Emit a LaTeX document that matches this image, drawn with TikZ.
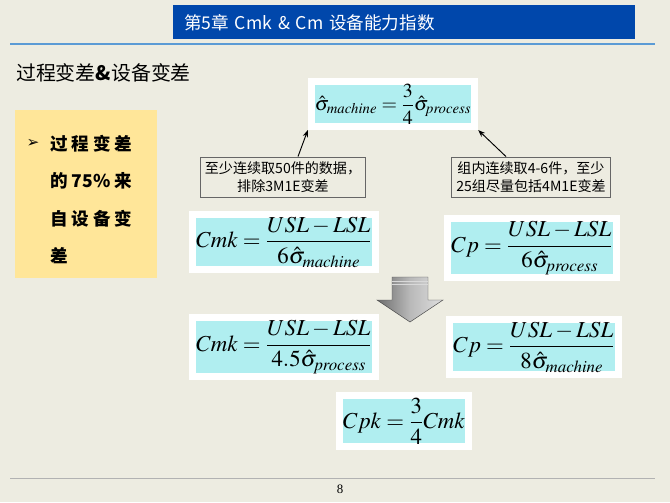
\documentclass[tikz,border=0pt]{standalone}
\usepackage{amsmath}
\usepackage{mathptmx}
\usepackage{fontspec}
\newfontfamily\cjk{Noto Sans CJK SC}
\setmainfont{Liberation Serif}
\usetikzlibrary{arrows.meta}
\definecolor{slidebg}{HTML}{EDECE1}
\definecolor{titleblue}{HTML}{0047AB}
\definecolor{rulerblue}{HTML}{5B9BD5}
\definecolor{notebox}{HTML}{FFE699}
\definecolor{formcyan}{HTML}{B0EEF0}
\begin{document}
\begin{tikzpicture}[
        x=0.03cm, y=-0.03cm,
        formula/.style={draw=white, line width=6pt, fill=formcyan, inner xsep=3pt, inner ysep=2pt, font=\fontsize{19.5}{22}\selectfont},
        remark/.style={draw=gray!80!black, thick, fill=slidebg, align=center, inner sep=4pt, font=\cjk\fontsize{12}{15}\selectfont},
        arrow/.style={-{Stealth[length=6pt]}, thick}
    ]
        \fill[slidebg] (0,0) rectangle (670,502);
        \useasboundingbox (0,0) rectangle (670,502);

        % Title and rulers
        \node[fill=titleblue, minimum width=462*0.03cm, minimum height=34*0.03cm, anchor=north west, text=white, inner xsep=6pt, font=\cjk\fontsize{15}{18}\selectfont, text width=440*0.03cm] (title) at (173,5) {第5章 Cmk \& Cm 设备能力指数};
        \draw[rulerblue, line width=1.5pt] (10,44) -- (655,44);
        \draw[gray!60, line width=0.6pt] (10,478) -- (655,478);
        \node[font=\fontsize{11}{13}\selectfont] (page) at (340,489) {8};

        \node[anchor=west, font=\cjk\fontsize{17}{20}\selectfont] (heading) at (12,73) {过程变差\textbf{\&}设备变差};

        % Left note
        \fill[notebox] (15,110) rectangle (157,278);
        \node (bullet) at (33,143) {\fontsize{13}{15}\selectfont\fontspec{DejaVu Sans}➢};
        \foreach \txt [count=\i] in {过 程 变 差, 的 \textbf{75\%} 来, 自 设 备 变, 差}
            \node[anchor=west, font=\cjk\bfseries\fontsize{15}{18}\selectfont] (line\i) at (46,106+37.5*\i) {\txt};

        % Formulas
        \node[formula, font=\fontsize{17}{19}\selectfont] (sigma) at (393,104) {$\hat\sigma_{\mathit{machine}}=\dfrac{3}{4}\hat\sigma_{\mathit{process}}$};
        \node[remark] (remL) at (283,177) {至少连续取50件的数据，\\排除3M1E变差};
        \node[remark] (remR) at (531,177) {组内连续取4-6件，至少\\25组尽量包括4M1E变差};
        \draw[arrow] (remL.north) ++(15,0) coordinate (aL) -- (sigma.south west);
        \draw[arrow] (remR.north) ++(-25,0) coordinate (aR) -- (sigma.south east);

        \node[formula] (cmk) at (284,242) {$Cmk=\dfrac{USL-LSL}{6\hat\sigma_{\mathit{machine}}}$};
        \node[formula] (cp) at (532,248) {$Cp=\dfrac{USL-LSL}{6\hat\sigma_{\mathit{process}}}$};

        % Down arrow
        \shade[left color=gray!85!black, right color=gray!25, middle color=gray!55, draw=gray!60!black]
            (392,277) -- (428,277) -- (428,300) -- (443,300) -- (410,322) -- (377,300) -- (392,300) -- cycle;
        \draw[gray!30] (392,281) -- (428,281) (392,284) -- (428,284);

        \node[formula] (cmk2) at (284,347) {$Cmk=\dfrac{USL-LSL}{4.5\hat\sigma_{\mathit{process}}}$};
        \node[formula] (cp2) at (534,347) {$Cp=\dfrac{USL-LSL}{8\hat\sigma_{\mathit{machine}}}$};
        \node[formula] (cpk) at (404,421) {$Cpk=\dfrac{3}{4}Cmk$};
\end{tikzpicture}
\end{document}
